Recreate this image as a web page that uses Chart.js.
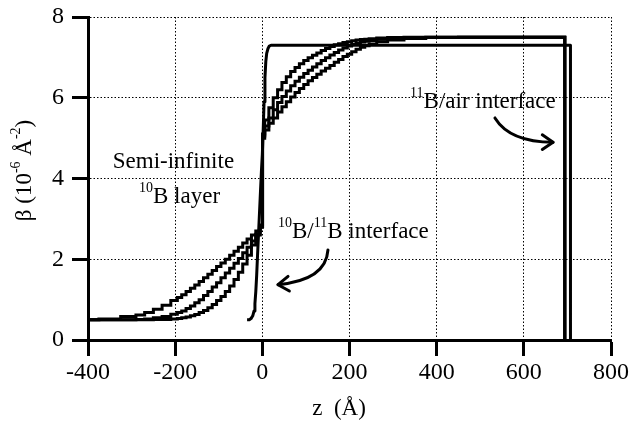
<!DOCTYPE html>
<html>
<head>
<meta charset="utf-8">
<script src="https://cdn.jsdelivr.net/npm/chart.js@4/dist/chart.umd.min.js"></script>
<style>
html,body{margin:0;padding:0;background:#fff;}
canvas{display:block;}
</style>
</head>
<body>
<canvas id="c" width="629" height="422"></canvas>
<script>
// ---- data ----
const zSmooth = [-400,-350,-300,-280,-260,-240,-220,-200,-190,-180,-170,-160,-150,-140,-130,-120,-110,-100,-90,-80,-70,-60,-50,-40,-30,-20,-10,0,
  1,10,20,30,40,50,60,70,80,90,100,110,120,130,140,150,160,170,180,190,200,210,220,230,240,250,275,300,350,400,500,600,694,694];
const betaNarrow = [0.5,0.5,0.5,0.5,0.5,0.51,0.51,0.52,0.53,0.55,0.57,0.6,0.63,0.68,0.73,0.8,0.88,0.98,1.08,1.2,1.34,1.5,1.68,1.88,2.1,2.35,2.6,2.85,
  5.1,5.45,5.75,6.0,6.2,6.38,6.52,6.65,6.75,6.84,6.92,6.99,7.05,7.11,7.17,7.22,7.27,7.31,7.34,7.37,7.39,7.41,7.43,7.44,7.45,7.46,7.48,7.49,7.5,7.5,7.5,7.5,7.5,0];
const betaMiddle = [0.5,0.5,0.5,0.51,0.52,0.55,0.58,0.64,0.68,0.72,0.78,0.84,0.92,1.0,1.1,1.2,1.31,1.42,1.54,1.66,1.78,1.9,2.02,2.16,2.3,2.45,2.62,2.8,
  5.05,5.3,5.5,5.7,5.88,6.03,6.17,6.3,6.41,6.51,6.6,6.68,6.76,6.84,6.92,6.99,7.06,7.12,7.18,7.23,7.28,7.32,7.35,7.38,7.4,7.42,7.45,7.47,7.49,7.5,7.5,7.5,7.5,0];
const betaWide = [0.5,0.52,0.58,0.62,0.68,0.76,0.86,0.98,1.05,1.12,1.2,1.28,1.36,1.45,1.54,1.63,1.72,1.82,1.91,2.0,2.1,2.2,2.3,2.4,2.5,2.6,2.7,2.8,
  5.0,5.2,5.37,5.5,5.65,5.78,5.9,6.02,6.13,6.23,6.33,6.42,6.5,6.58,6.66,6.73,6.8,6.88,6.95,7.02,7.08,7.14,7.2,7.25,7.29,7.33,7.39,7.43,7.47,7.49,7.5,7.5,7.5,0];
const zSharp = [-35,-30,-26,-22,-19,-17,-15,-13,-11,-8,-5,-2,0,2,4,6,8,10,13,16,20,707,707];
const betaSharp = [0.5,0.5,0.53,0.6,0.72,0.9,1.2,1.6,2.1,2.8,3.5,4.2,4.6,5.2,5.9,6.5,6.9,7.1,7.22,7.28,7.3,7.3,0];
const xTicks = [-400,-200,0,200,400,600,800];
const xTickLabels = ['-400','-200','0','200','400','600','800'];
const yTicks = [0,2,4,6,8];
const yTickLabels = ['0','2','4','6','8'];

const SERIF = "'Liberation Serif','Times New Roman',serif";
const pts = (xs, ys) => xs.map((x, i) => ({x: x, y: ys[i]}));

const smoothStyle = {borderColor:'#000', borderWidth:3, pointRadius:0, stepped:'middle', fill:false};

const annot = {
  id: 'annot',
  afterDatasetsDraw(chart) {
    const ctx = chart.ctx, xs = chart.scales.x, ys = chart.scales.y;
    const P = (z, b) => [xs.getPixelForValue(z), ys.getPixelForValue(b)];
    const big = '23px ' + SERIF, sup = '14px ' + SERIF;
    ctx.save();
    ctx.fillStyle = '#000';
    ctx.textBaseline = 'alphabetic';
    const run = (pieces, x, y) => {
      for (const [t, s] of pieces) {
        ctx.font = s ? sup : big;
        ctx.fillText(t, x, s ? y - 11 : y);
        x += ctx.measureText(t).width;
      }
    };
    const runW = (pieces) => pieces.reduce((w, [t, s]) => { ctx.font = s ? sup : big; return w + ctx.measureText(t).width; }, 0);

    // Semi-infinite 10B layer
    let p = P(-204, 4.26);
    ctx.font = big; ctx.textAlign = 'left';
    const w1 = ctx.measureText('Semi-infinite').width;
    ctx.fillText('Semi-infinite', p[0] - w1 / 2, p[1]);
    p = P(-283, 3.39);
    run([['10', true], ['B layer', false]], p[0], p[1]);

    // 10B/11B interface
    p = P(36, 2.53);
    run([['10', true], ['B/', false], ['11', true], ['B interface', false]], p[0], p[1]);

    // 11B/air interface
    p = P(339, 5.75);
    run([['11', true], ['B/air interface', false]], p[0], p[1]);

    // arrows
    ctx.strokeStyle = '#000'; ctx.lineWidth = 3; ctx.lineCap = 'round'; ctx.lineJoin = 'round';
    const arrow = (a, c, b, wl) => {
      const A = P(a[0], a[1]), C = P(c[0], c[1]), B = P(b[0], b[1]);
      ctx.beginPath(); ctx.moveTo(A[0], A[1]); ctx.quadraticCurveTo(C[0], C[1], B[0], B[1]); ctx.stroke();
      const ang = Math.atan2(B[1] - C[1], B[0] - C[0]);
      ctx.beginPath();
      ctx.moveTo(B[0] - wl * Math.cos(ang - 0.6), B[1] - wl * Math.sin(ang - 0.6));
      ctx.lineTo(B[0], B[1]);
      ctx.lineTo(B[0] - wl * Math.cos(ang + 0.6), B[1] - wl * Math.sin(ang + 0.6));
      ctx.stroke();
    };
    arrow([150.6, 2.23], [146, 1.48], [36, 1.37], 13);
    arrow([533.7, 5.50], [568, 4.9], [667, 4.9], 13);

    // y-axis title (rotated) with superscripts
    const yt = [['\u03B2 (10', false], ['-6', true], [' \u00C5', false], ['-2', true], [')', false]];
    ctx.save();
    ctx.translate(31, (chart.chartArea.top + chart.chartArea.bottom) / 2 - 8);
    ctx.rotate(-Math.PI / 2);
    run(yt, -runW(yt) / 2, 0);
    ctx.restore();

    // x-axis title
    ctx.font = big; ctx.textAlign = 'center';
    ctx.fillText('z  (\u00C5)', 339, 415);
    ctx.restore();
  }
};

new Chart(document.getElementById('c'), {
  type: 'line',
  data: {
    datasets: [
      Object.assign({label:'wide', data: pts(zSmooth, betaWide)}, smoothStyle),
      Object.assign({label:'middle', data: pts(zSmooth, betaMiddle)}, smoothStyle),
      Object.assign({label:'narrow', data: pts(zSmooth, betaNarrow)}, smoothStyle),
      {label:'sharp', data: pts(zSharp, betaSharp), borderColor:'#000', borderWidth:3, pointRadius:0, tension:0, fill:false, borderJoinStyle:'round'}
    ]
  },
  options: {
    responsive: false,
    animation: false,
    devicePixelRatio: 1,
    layout: {padding: {top: 17, right: 18, left: 0, bottom: 0}},
    plugins: {legend: {display: false}, tooltip: {enabled: false}},
    scales: {
      x: {
        type: 'linear', min: -400, max: 800,
        afterBuildTicks: (s) => { s.ticks = xTicks.map(v => ({value: v})); },
        afterFit: (s) => { s.height = 82; s.paddingLeft = 0; s.paddingRight = 0; },
        ticks: {
          callback: (v) => xTickLabels[xTicks.indexOf(v)],
          font: {family: SERIF, size: 24}, color: '#000', padding: 2, maxRotation: 0, autoSkip: false
        },
        grid: {color: '#000', lineWidth: 1, tickLength: 16, tickWidth: 3, tickColor: '#000', tickBorderDash: []},
        border: {display: true, color: '#000', width: 3, dash: [1.5, 2]}
      },
      y: {
        type: 'linear', min: 0, max: 8,
        afterBuildTicks: (s) => { s.ticks = yTicks.map(v => ({value: v})); },
        afterFit: (s) => { s.width = 88; s.paddingTop = 0; s.paddingBottom = 0; },
        ticks: {
          callback: (v) => yTickLabels[yTicks.indexOf(v)],
          font: {family: SERIF, size: 24}, color: '#000', padding: 8
        },
        grid: {color: '#000', lineWidth: 1, tickLength: 16, tickWidth: 3, tickColor: '#000', tickBorderDash: []},
        border: {display: true, color: '#000', width: 3, dash: [1.5, 2]}
      }
    }
  },
  plugins: [annot]
});
</script>
</body>
</html>
